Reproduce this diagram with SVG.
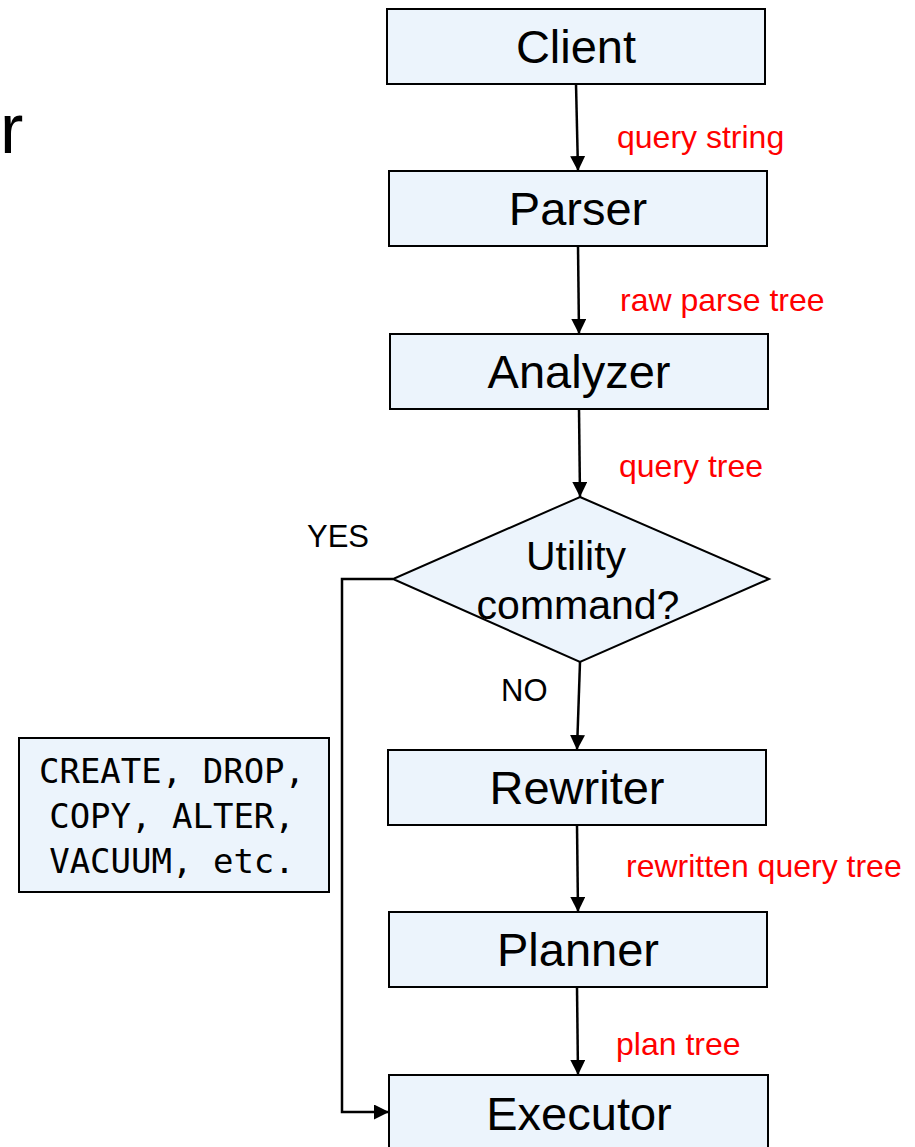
<svg xmlns="http://www.w3.org/2000/svg" width="915" height="1147" viewBox="0 0 915 1147">
  <style>
    .box { fill: #ecf4fc; stroke: #000; stroke-width: 2; }
    .lbl { font-family: "Liberation Sans", Arial, sans-serif; font-size: 47px; fill: #000; text-anchor: middle; }
    .dlbl { font-family: "Liberation Sans", Arial, sans-serif; font-size: 41px; fill: #000; text-anchor: middle; }
    .edge { font-family: "Liberation Sans", Arial, sans-serif; font-size: 32px; fill: #ff0000; }
    .tag { font-family: "Liberation Sans", Arial, sans-serif; font-size: 31px; fill: #000; }
    .mono { font-family: "DejaVu Sans Mono", "Liberation Mono", monospace; font-size: 34px; fill: #000; text-anchor: middle; }
    .wire { fill: none; stroke: #000; stroke-width: 2.5; }
  </style>
  <defs>
    <marker id="arrow" viewBox="0 0 15 15" refX="15" refY="7.5" markerWidth="15" markerHeight="15" markerUnits="userSpaceOnUse" orient="auto">
      <path d="M0,0 L15,7.5 L0,15 Z" fill="#000"/>
    </marker>
  </defs>
  <rect width="915" height="1147" fill="#fff"/>

  <!-- title fragment at the left edge -->
  <text x="0" y="153" font-family="Liberation Sans, Arial, sans-serif" font-size="70" fill="#000">r</text>

  <g id="connectors">
    <line class="wire" x1="576" y1="84" x2="578" y2="171" marker-end="url(#arrow)"/>
    <line class="wire" x1="578" y1="246" x2="579" y2="334" marker-end="url(#arrow)"/>
    <line class="wire" x1="579" y1="409" x2="580" y2="497" marker-end="url(#arrow)"/>
    <line class="wire" x1="580" y1="662" x2="577" y2="750" marker-end="url(#arrow)"/>
    <line class="wire" x1="577" y1="825" x2="578" y2="912" marker-end="url(#arrow)"/>
    <line class="wire" x1="577" y1="987" x2="578" y2="1075" marker-end="url(#arrow)"/>
    <polyline class="wire" points="393,579 342,579 342,1112 389,1112" marker-end="url(#arrow)"/>
    <text class="edge" x="617" y="148">query string</text>
    <text class="edge" x="620" y="311">raw parse tree</text>
    <text class="edge" x="619" y="477">query tree</text>
    <text class="edge" x="626" y="877">rewritten query tree</text>
    <text class="edge" x="616" y="1055">plan tree</text>
    <text class="tag" x="307" y="547">YES</text>
    <text class="tag" x="501" y="701">NO</text>
  </g>

  <g id="client">
    <rect class="box" x="387" y="9" width="378" height="75"/>
    <text class="lbl" x="576" y="63">Client</text>
  </g>
  <g id="parser">
    <rect class="box" x="389" y="171" width="378" height="75"/>
    <text class="lbl" x="578" y="225">Parser</text>
  </g>
  <g id="analyzer">
    <rect class="box" x="390" y="334" width="378" height="75"/>
    <text class="lbl" x="579" y="388">Analyzer</text>
  </g>
  <g id="utility-check">
    <polygon class="box" points="580,497 769,579 580,662 393,579"/>
    <text class="dlbl" x="576" y="570">Utility</text>
    <text class="dlbl" x="578" y="619">command?</text>
  </g>
  <g id="rewriter">
    <rect class="box" x="388" y="750" width="378" height="75"/>
    <text class="lbl" x="577" y="804">Rewriter</text>
  </g>
  <g id="planner">
    <rect class="box" x="389" y="912" width="378" height="75"/>
    <text class="lbl" x="578" y="966">Planner</text>
  </g>
  <g id="executor">
    <rect class="box" x="389" y="1075" width="379" height="80"/>
    <text class="lbl" x="579" y="1130">Executor</text>
  </g>
  <g id="utility-commands">
    <rect class="box" x="19" y="738" width="310" height="154"/>
    <text class="mono" x="172" y="783">CREATE, DROP,</text>
    <text class="mono" x="172" y="828">COPY, ALTER,</text>
    <text class="mono" x="172" y="873">VACUUM, etc.</text>
  </g>
</svg>
